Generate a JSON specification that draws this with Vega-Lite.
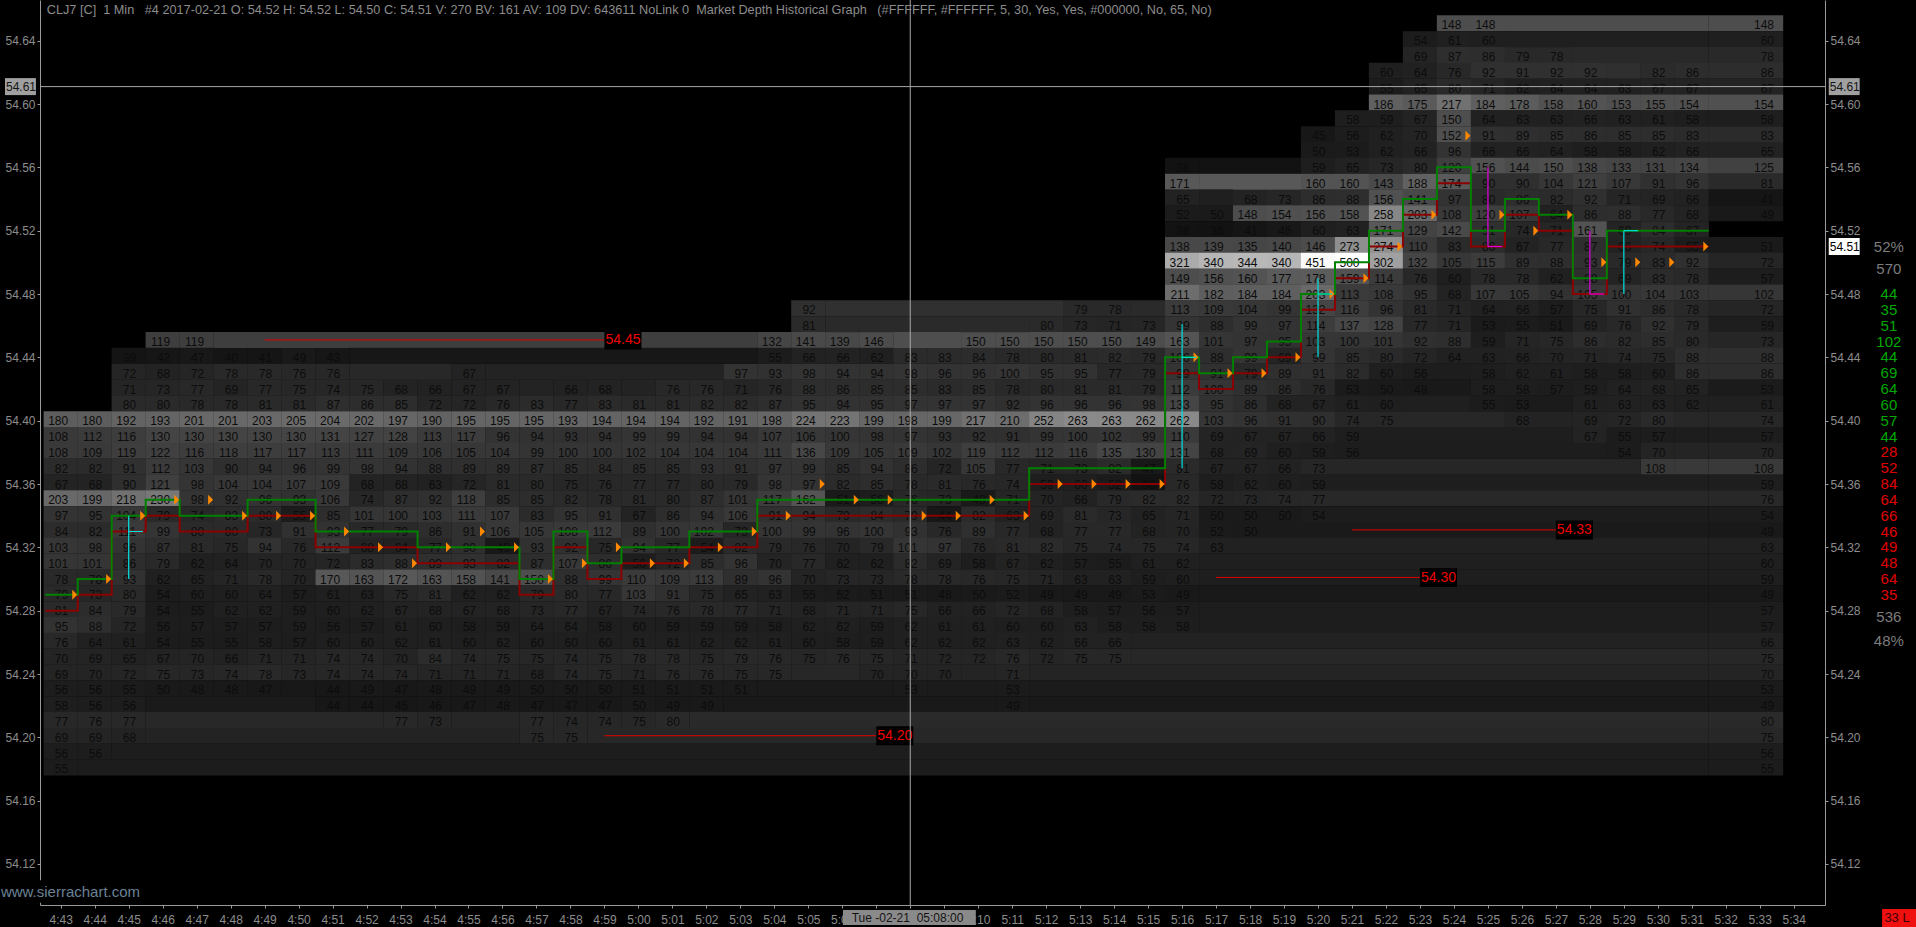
{"$schema":"https://vega.github.io/schema/vega-lite/v6.json","width":1785,"height":905,"autosize":"none","padding":{"left":40,"top":0,"right":91,"bottom":22},"background":"#000000","config":{"view":{"stroke":null},"axis":{"grid":false,"domainColor":"#9a9a9a","tickColor":"#9a9a9a","labelColor":"#8c8c8c","labelFont":"Liberation Sans","labelFontSize":12,"tickSize":3,"labelPadding":2,"title":null},"text":{"font":"Liberation Sans"}},"data":{"values":[{}]},"resolve":{"axis":{"y":"independent","x":"independent"}},
"datasets":{"cells":[
{"m":324,"p":54.65,"v":148},{"m":325,"p":54.65,"v":148},
{"m":323,"p":54.64,"v":54},{"m":324,"p":54.64,"v":61},{"m":325,"p":54.64,"v":60},
{"m":323,"p":54.63,"v":69},{"m":324,"p":54.63,"v":87},{"m":325,"p":54.63,"v":86},{"m":326,"p":54.63,"v":79},{"m":327,"p":54.63,"v":78},
{"m":322,"p":54.62,"v":60},{"m":323,"p":54.62,"v":64},{"m":324,"p":54.62,"v":76},{"m":325,"p":54.62,"v":92},{"m":326,"p":54.62,"v":91},{"m":327,"p":54.62,"v":92},{"m":328,"p":54.62,"v":92},{"m":330,"p":54.62,"v":82},{"m":331,"p":54.62,"v":86},
{"m":322,"p":54.61,"v":55},{"m":323,"p":54.61,"v":65},{"m":324,"p":54.61,"v":80},{"m":325,"p":54.61,"v":71},{"m":326,"p":54.61,"v":62},{"m":327,"p":54.61,"v":64},{"m":328,"p":54.61,"v":64},{"m":329,"p":54.61,"v":63},{"m":330,"p":54.61,"v":67},{"m":331,"p":54.61,"v":67},
{"m":322,"p":54.6,"v":186},{"m":323,"p":54.6,"v":175},{"m":324,"p":54.6,"v":217},{"m":325,"p":54.6,"v":184},{"m":326,"p":54.6,"v":178},{"m":327,"p":54.6,"v":158},{"m":328,"p":54.6,"v":160},{"m":329,"p":54.6,"v":153},{"m":330,"p":54.6,"v":155},{"m":331,"p":54.6,"v":154},
{"m":321,"p":54.59,"v":58},{"m":322,"p":54.59,"v":59},{"m":323,"p":54.59,"v":67},{"m":324,"p":54.59,"v":150},{"m":325,"p":54.59,"v":64},{"m":326,"p":54.59,"v":63},{"m":327,"p":54.59,"v":63},{"m":328,"p":54.59,"v":66},{"m":329,"p":54.59,"v":63},{"m":330,"p":54.59,"v":61},{"m":331,"p":54.59,"v":58},
{"m":320,"p":54.58,"v":45},{"m":321,"p":54.58,"v":56},{"m":322,"p":54.58,"v":62},{"m":323,"p":54.58,"v":70},{"m":324,"p":54.58,"v":152},{"m":325,"p":54.58,"v":91},{"m":326,"p":54.58,"v":89},{"m":327,"p":54.58,"v":85},{"m":328,"p":54.58,"v":86},{"m":329,"p":54.58,"v":85},{"m":330,"p":54.58,"v":85},{"m":331,"p":54.58,"v":83},
{"m":320,"p":54.57,"v":50},{"m":321,"p":54.57,"v":53},{"m":322,"p":54.57,"v":62},{"m":323,"p":54.57,"v":66},{"m":324,"p":54.57,"v":96},{"m":325,"p":54.57,"v":66},{"m":326,"p":54.57,"v":66},{"m":327,"p":54.57,"v":64},{"m":328,"p":54.57,"v":58},{"m":329,"p":54.57,"v":58},{"m":330,"p":54.57,"v":62},{"m":331,"p":54.57,"v":66},
{"m":316,"p":54.56,"v":36},{"m":320,"p":54.56,"v":59},{"m":321,"p":54.56,"v":65},{"m":322,"p":54.56,"v":73},{"m":323,"p":54.56,"v":80},{"m":324,"p":54.56,"v":120},{"m":325,"p":54.56,"v":156},{"m":326,"p":54.56,"v":144},{"m":327,"p":54.56,"v":150},{"m":328,"p":54.56,"v":138},{"m":329,"p":54.56,"v":133},{"m":330,"p":54.56,"v":131},{"m":331,"p":54.56,"v":134},
{"m":316,"p":54.55,"v":171},{"m":320,"p":54.55,"v":160},{"m":321,"p":54.55,"v":160},{"m":322,"p":54.55,"v":143},{"m":323,"p":54.55,"v":188},{"m":324,"p":54.55,"v":174},{"m":325,"p":54.55,"v":90},{"m":326,"p":54.55,"v":90},{"m":327,"p":54.55,"v":104},{"m":328,"p":54.55,"v":121},{"m":329,"p":54.55,"v":107},{"m":330,"p":54.55,"v":91},{"m":331,"p":54.55,"v":96},
{"m":316,"p":54.54,"v":65},{"m":318,"p":54.54,"v":68},{"m":319,"p":54.54,"v":73},{"m":320,"p":54.54,"v":86},{"m":321,"p":54.54,"v":88},{"m":322,"p":54.54,"v":156},{"m":323,"p":54.54,"v":141},{"m":324,"p":54.54,"v":97},{"m":325,"p":54.54,"v":80},{"m":326,"p":54.54,"v":86},{"m":327,"p":54.54,"v":82},{"m":328,"p":54.54,"v":92},{"m":329,"p":54.54,"v":71},{"m":330,"p":54.54,"v":69},{"m":331,"p":54.54,"v":66},
{"m":316,"p":54.53,"v":52},{"m":317,"p":54.53,"v":50},{"m":318,"p":54.53,"v":148},{"m":319,"p":54.53,"v":154},{"m":320,"p":54.53,"v":156},{"m":321,"p":54.53,"v":158},{"m":322,"p":54.53,"v":258},{"m":323,"p":54.53,"v":203},{"m":324,"p":54.53,"v":108},{"m":325,"p":54.53,"v":120},{"m":326,"p":54.53,"v":107},{"m":327,"p":54.53,"v":64},{"m":328,"p":54.53,"v":86},{"m":329,"p":54.53,"v":88},{"m":330,"p":54.53,"v":77},{"m":331,"p":54.53,"v":68},
{"m":316,"p":54.52,"v":38},{"m":317,"p":54.52,"v":36},{"m":318,"p":54.52,"v":41},{"m":319,"p":54.52,"v":46},{"m":320,"p":54.52,"v":60},{"m":321,"p":54.52,"v":63},{"m":322,"p":54.52,"v":171},{"m":323,"p":54.52,"v":129},{"m":324,"p":54.52,"v":142},{"m":325,"p":54.52,"v":91},{"m":326,"p":54.52,"v":74},{"m":327,"p":54.52,"v":71},{"m":328,"p":54.52,"v":161},{"m":329,"p":54.52,"v":69},{"m":330,"p":54.52,"v":84},{"m":331,"p":54.52,"v":67},
{"m":316,"p":54.51,"v":138},{"m":317,"p":54.51,"v":139},{"m":318,"p":54.51,"v":135},{"m":319,"p":54.51,"v":140},{"m":320,"p":54.51,"v":146},{"m":321,"p":54.51,"v":273},{"m":322,"p":54.51,"v":274},{"m":323,"p":54.51,"v":110},{"m":324,"p":54.51,"v":83},{"m":325,"p":54.51,"v":86},{"m":326,"p":54.51,"v":67},{"m":327,"p":54.51,"v":77},{"m":328,"p":54.51,"v":87},{"m":329,"p":54.51,"v":66},{"m":330,"p":54.51,"v":74},{"m":331,"p":54.51,"v":55},
{"m":316,"p":54.5,"v":321},{"m":317,"p":54.5,"v":340},{"m":318,"p":54.5,"v":344},{"m":319,"p":54.5,"v":340},{"m":320,"p":54.5,"v":451},{"m":321,"p":54.5,"v":500},{"m":322,"p":54.5,"v":302},{"m":323,"p":54.5,"v":132},{"m":324,"p":54.5,"v":105},{"m":325,"p":54.5,"v":115},{"m":326,"p":54.5,"v":89},{"m":327,"p":54.5,"v":88},{"m":328,"p":54.5,"v":93},{"m":329,"p":54.5,"v":79},{"m":330,"p":54.5,"v":83},{"m":331,"p":54.5,"v":92},
{"m":316,"p":54.49,"v":149},{"m":317,"p":54.49,"v":156},{"m":318,"p":54.49,"v":160},{"m":319,"p":54.49,"v":177},{"m":320,"p":54.49,"v":178},{"m":321,"p":54.49,"v":159},{"m":322,"p":54.49,"v":114},{"m":323,"p":54.49,"v":76},{"m":324,"p":54.49,"v":60},{"m":325,"p":54.49,"v":78},{"m":326,"p":54.49,"v":78},{"m":327,"p":54.49,"v":62},{"m":328,"p":54.49,"v":88},{"m":329,"p":54.49,"v":69},{"m":330,"p":54.49,"v":83},{"m":331,"p":54.49,"v":78},
{"m":316,"p":54.48,"v":211},{"m":317,"p":54.48,"v":182},{"m":318,"p":54.48,"v":184},{"m":319,"p":54.48,"v":184},{"m":320,"p":54.48,"v":203},{"m":321,"p":54.48,"v":113},{"m":322,"p":54.48,"v":108},{"m":323,"p":54.48,"v":95},{"m":324,"p":54.48,"v":68},{"m":325,"p":54.48,"v":107},{"m":326,"p":54.48,"v":105},{"m":327,"p":54.48,"v":94},{"m":328,"p":54.48,"v":105},{"m":329,"p":54.48,"v":100},{"m":330,"p":54.48,"v":104},{"m":331,"p":54.48,"v":103},
{"m":305,"p":54.47,"v":92},{"m":313,"p":54.47,"v":79},{"m":314,"p":54.47,"v":78},{"m":316,"p":54.47,"v":113},{"m":317,"p":54.47,"v":109},{"m":318,"p":54.47,"v":104},{"m":319,"p":54.47,"v":99},{"m":320,"p":54.47,"v":132},{"m":321,"p":54.47,"v":116},{"m":322,"p":54.47,"v":96},{"m":323,"p":54.47,"v":81},{"m":324,"p":54.47,"v":71},{"m":325,"p":54.47,"v":64},{"m":326,"p":54.47,"v":66},{"m":327,"p":54.47,"v":57},{"m":328,"p":54.47,"v":75},{"m":329,"p":54.47,"v":91},{"m":330,"p":54.47,"v":86},{"m":331,"p":54.47,"v":78},
{"m":305,"p":54.46,"v":81},{"m":312,"p":54.46,"v":80},{"m":313,"p":54.46,"v":73},{"m":314,"p":54.46,"v":71},{"m":315,"p":54.46,"v":73},{"m":316,"p":54.46,"v":99},{"m":317,"p":54.46,"v":88},{"m":318,"p":54.46,"v":99},{"m":319,"p":54.46,"v":97},{"m":320,"p":54.46,"v":114},{"m":321,"p":54.46,"v":137},{"m":322,"p":54.46,"v":128},{"m":323,"p":54.46,"v":77},{"m":324,"p":54.46,"v":71},{"m":325,"p":54.46,"v":53},{"m":326,"p":54.46,"v":55},{"m":327,"p":54.46,"v":51},{"m":328,"p":54.46,"v":69},{"m":329,"p":54.46,"v":76},{"m":330,"p":54.46,"v":92},{"m":331,"p":54.46,"v":79},
{"m":286,"p":54.45,"v":119},{"m":287,"p":54.45,"v":119},{"m":304,"p":54.45,"v":132},{"m":305,"p":54.45,"v":141},{"m":306,"p":54.45,"v":139},{"m":307,"p":54.45,"v":146},{"m":310,"p":54.45,"v":150},{"m":311,"p":54.45,"v":150},{"m":312,"p":54.45,"v":150},{"m":313,"p":54.45,"v":150},{"m":314,"p":54.45,"v":150},{"m":315,"p":54.45,"v":149},{"m":316,"p":54.45,"v":163},{"m":317,"p":54.45,"v":101},{"m":318,"p":54.45,"v":97},{"m":319,"p":54.45,"v":95},{"m":320,"p":54.45,"v":103},{"m":321,"p":54.45,"v":100},{"m":322,"p":54.45,"v":101},{"m":323,"p":54.45,"v":92},{"m":324,"p":54.45,"v":88},{"m":325,"p":54.45,"v":59},{"m":326,"p":54.45,"v":71},{"m":327,"p":54.45,"v":75},{"m":328,"p":54.45,"v":86},{"m":329,"p":54.45,"v":82},{"m":330,"p":54.45,"v":85},{"m":331,"p":54.45,"v":80},
{"m":285,"p":54.44,"v":39},{"m":286,"p":54.44,"v":42},{"m":287,"p":54.44,"v":47},{"m":288,"p":54.44,"v":40},{"m":289,"p":54.44,"v":41},{"m":290,"p":54.44,"v":49},{"m":291,"p":54.44,"v":43},{"m":304,"p":54.44,"v":55},{"m":305,"p":54.44,"v":66},{"m":306,"p":54.44,"v":66},{"m":307,"p":54.44,"v":62},{"m":308,"p":54.44,"v":83},{"m":309,"p":54.44,"v":83},{"m":310,"p":54.44,"v":84},{"m":311,"p":54.44,"v":78},{"m":312,"p":54.44,"v":80},{"m":313,"p":54.44,"v":81},{"m":314,"p":54.44,"v":82},{"m":315,"p":54.44,"v":79},{"m":316,"p":54.44,"v":106},{"m":317,"p":54.44,"v":88},{"m":318,"p":54.44,"v":99},{"m":319,"p":54.44,"v":69},{"m":320,"p":54.44,"v":99},{"m":321,"p":54.44,"v":85},{"m":322,"p":54.44,"v":80},{"m":323,"p":54.44,"v":72},{"m":324,"p":54.44,"v":64},{"m":325,"p":54.44,"v":63},{"m":326,"p":54.44,"v":66},{"m":327,"p":54.44,"v":70},{"m":328,"p":54.44,"v":71},{"m":329,"p":54.44,"v":74},{"m":330,"p":54.44,"v":75},{"m":331,"p":54.44,"v":88},
{"m":285,"p":54.43,"v":72},{"m":286,"p":54.43,"v":68},{"m":287,"p":54.43,"v":72},{"m":288,"p":54.43,"v":78},{"m":289,"p":54.43,"v":78},{"m":290,"p":54.43,"v":76},{"m":291,"p":54.43,"v":76},{"m":295,"p":54.43,"v":67},{"m":303,"p":54.43,"v":97},{"m":304,"p":54.43,"v":93},{"m":305,"p":54.43,"v":98},{"m":306,"p":54.43,"v":94},{"m":307,"p":54.43,"v":94},{"m":308,"p":54.43,"v":98},{"m":309,"p":54.43,"v":96},{"m":310,"p":54.43,"v":96},{"m":311,"p":54.43,"v":100},{"m":312,"p":54.43,"v":95},{"m":313,"p":54.43,"v":95},{"m":314,"p":54.43,"v":77},{"m":315,"p":54.43,"v":79},{"m":316,"p":54.43,"v":99},{"m":317,"p":54.43,"v":91},{"m":318,"p":54.43,"v":79},{"m":319,"p":54.43,"v":89},{"m":320,"p":54.43,"v":91},{"m":321,"p":54.43,"v":82},{"m":322,"p":54.43,"v":60},{"m":323,"p":54.43,"v":56},{"m":325,"p":54.43,"v":58},{"m":326,"p":54.43,"v":62},{"m":327,"p":54.43,"v":61},{"m":328,"p":54.43,"v":58},{"m":329,"p":54.43,"v":58},{"m":330,"p":54.43,"v":60},{"m":331,"p":54.43,"v":86},
{"m":285,"p":54.42,"v":71},{"m":286,"p":54.42,"v":73},{"m":287,"p":54.42,"v":77},{"m":288,"p":54.42,"v":69},{"m":289,"p":54.42,"v":77},{"m":290,"p":54.42,"v":75},{"m":291,"p":54.42,"v":74},{"m":292,"p":54.42,"v":75},{"m":293,"p":54.42,"v":68},{"m":294,"p":54.42,"v":66},{"m":295,"p":54.42,"v":67},{"m":296,"p":54.42,"v":67},{"m":298,"p":54.42,"v":66},{"m":299,"p":54.42,"v":68},{"m":301,"p":54.42,"v":76},{"m":302,"p":54.42,"v":76},{"m":303,"p":54.42,"v":71},{"m":304,"p":54.42,"v":76},{"m":305,"p":54.42,"v":88},{"m":306,"p":54.42,"v":86},{"m":307,"p":54.42,"v":85},{"m":308,"p":54.42,"v":85},{"m":309,"p":54.42,"v":83},{"m":310,"p":54.42,"v":85},{"m":311,"p":54.42,"v":78},{"m":312,"p":54.42,"v":80},{"m":313,"p":54.42,"v":81},{"m":314,"p":54.42,"v":81},{"m":315,"p":54.42,"v":79},{"m":316,"p":54.42,"v":112},{"m":317,"p":54.42,"v":100},{"m":318,"p":54.42,"v":89},{"m":319,"p":54.42,"v":86},{"m":320,"p":54.42,"v":76},{"m":321,"p":54.42,"v":53},{"m":322,"p":54.42,"v":50},{"m":323,"p":54.42,"v":48},{"m":325,"p":54.42,"v":58},{"m":326,"p":54.42,"v":58},{"m":327,"p":54.42,"v":57},{"m":328,"p":54.42,"v":59},{"m":329,"p":54.42,"v":64},{"m":330,"p":54.42,"v":68},{"m":331,"p":54.42,"v":65},
{"m":285,"p":54.41,"v":80},{"m":286,"p":54.41,"v":80},{"m":287,"p":54.41,"v":78},{"m":288,"p":54.41,"v":78},{"m":289,"p":54.41,"v":81},{"m":290,"p":54.41,"v":81},{"m":291,"p":54.41,"v":87},{"m":292,"p":54.41,"v":86},{"m":293,"p":54.41,"v":85},{"m":294,"p":54.41,"v":72},{"m":295,"p":54.41,"v":72},{"m":296,"p":54.41,"v":76},{"m":297,"p":54.41,"v":83},{"m":298,"p":54.41,"v":77},{"m":299,"p":54.41,"v":83},{"m":300,"p":54.41,"v":81},{"m":301,"p":54.41,"v":81},{"m":302,"p":54.41,"v":82},{"m":303,"p":54.41,"v":82},{"m":304,"p":54.41,"v":87},{"m":305,"p":54.41,"v":95},{"m":306,"p":54.41,"v":94},{"m":307,"p":54.41,"v":95},{"m":308,"p":54.41,"v":97},{"m":309,"p":54.41,"v":97},{"m":310,"p":54.41,"v":97},{"m":311,"p":54.41,"v":92},{"m":312,"p":54.41,"v":96},{"m":313,"p":54.41,"v":96},{"m":314,"p":54.41,"v":96},{"m":315,"p":54.41,"v":98},{"m":316,"p":54.41,"v":133},{"m":317,"p":54.41,"v":95},{"m":318,"p":54.41,"v":86},{"m":319,"p":54.41,"v":68},{"m":320,"p":54.41,"v":67},{"m":321,"p":54.41,"v":61},{"m":322,"p":54.41,"v":60},{"m":325,"p":54.41,"v":55},{"m":326,"p":54.41,"v":53},{"m":328,"p":54.41,"v":61},{"m":329,"p":54.41,"v":63},{"m":330,"p":54.41,"v":63},{"m":331,"p":54.41,"v":62},
{"m":283,"p":54.4,"v":180},{"m":284,"p":54.4,"v":180},{"m":285,"p":54.4,"v":192},{"m":286,"p":54.4,"v":193},{"m":287,"p":54.4,"v":201},{"m":288,"p":54.4,"v":201},{"m":289,"p":54.4,"v":203},{"m":290,"p":54.4,"v":205},{"m":291,"p":54.4,"v":204},{"m":292,"p":54.4,"v":202},{"m":293,"p":54.4,"v":197},{"m":294,"p":54.4,"v":190},{"m":295,"p":54.4,"v":195},{"m":296,"p":54.4,"v":195},{"m":297,"p":54.4,"v":195},{"m":298,"p":54.4,"v":193},{"m":299,"p":54.4,"v":194},{"m":300,"p":54.4,"v":194},{"m":301,"p":54.4,"v":194},{"m":302,"p":54.4,"v":192},{"m":303,"p":54.4,"v":191},{"m":304,"p":54.4,"v":198},{"m":305,"p":54.4,"v":224},{"m":306,"p":54.4,"v":223},{"m":307,"p":54.4,"v":199},{"m":308,"p":54.4,"v":198},{"m":309,"p":54.4,"v":199},{"m":310,"p":54.4,"v":217},{"m":311,"p":54.4,"v":210},{"m":312,"p":54.4,"v":252},{"m":313,"p":54.4,"v":263},{"m":314,"p":54.4,"v":263},{"m":315,"p":54.4,"v":262},{"m":316,"p":54.4,"v":262},{"m":317,"p":54.4,"v":103},{"m":318,"p":54.4,"v":96},{"m":319,"p":54.4,"v":91},{"m":320,"p":54.4,"v":90},{"m":321,"p":54.4,"v":74},{"m":322,"p":54.4,"v":75},{"m":326,"p":54.4,"v":68},{"m":328,"p":54.4,"v":69},{"m":329,"p":54.4,"v":72},{"m":330,"p":54.4,"v":80},
{"m":283,"p":54.39,"v":108},{"m":284,"p":54.39,"v":112},{"m":285,"p":54.39,"v":116},{"m":286,"p":54.39,"v":130},{"m":287,"p":54.39,"v":130},{"m":288,"p":54.39,"v":130},{"m":289,"p":54.39,"v":130},{"m":290,"p":54.39,"v":130},{"m":291,"p":54.39,"v":131},{"m":292,"p":54.39,"v":127},{"m":293,"p":54.39,"v":128},{"m":294,"p":54.39,"v":113},{"m":295,"p":54.39,"v":117},{"m":296,"p":54.39,"v":96},{"m":297,"p":54.39,"v":94},{"m":298,"p":54.39,"v":93},{"m":299,"p":54.39,"v":94},{"m":300,"p":54.39,"v":99},{"m":301,"p":54.39,"v":99},{"m":302,"p":54.39,"v":94},{"m":303,"p":54.39,"v":94},{"m":304,"p":54.39,"v":107},{"m":305,"p":54.39,"v":106},{"m":306,"p":54.39,"v":100},{"m":307,"p":54.39,"v":98},{"m":308,"p":54.39,"v":97},{"m":309,"p":54.39,"v":93},{"m":310,"p":54.39,"v":92},{"m":311,"p":54.39,"v":91},{"m":312,"p":54.39,"v":99},{"m":313,"p":54.39,"v":100},{"m":314,"p":54.39,"v":102},{"m":315,"p":54.39,"v":99},{"m":316,"p":54.39,"v":110},{"m":317,"p":54.39,"v":69},{"m":318,"p":54.39,"v":67},{"m":319,"p":54.39,"v":67},{"m":320,"p":54.39,"v":66},{"m":321,"p":54.39,"v":59},{"m":328,"p":54.39,"v":67},{"m":329,"p":54.39,"v":55},{"m":330,"p":54.39,"v":57},
{"m":283,"p":54.38,"v":108},{"m":284,"p":54.38,"v":109},{"m":285,"p":54.38,"v":119},{"m":286,"p":54.38,"v":122},{"m":287,"p":54.38,"v":116},{"m":288,"p":54.38,"v":118},{"m":289,"p":54.38,"v":117},{"m":290,"p":54.38,"v":117},{"m":291,"p":54.38,"v":113},{"m":292,"p":54.38,"v":111},{"m":293,"p":54.38,"v":109},{"m":294,"p":54.38,"v":106},{"m":295,"p":54.38,"v":105},{"m":296,"p":54.38,"v":104},{"m":297,"p":54.38,"v":99},{"m":298,"p":54.38,"v":100},{"m":299,"p":54.38,"v":100},{"m":300,"p":54.38,"v":102},{"m":301,"p":54.38,"v":104},{"m":302,"p":54.38,"v":104},{"m":303,"p":54.38,"v":104},{"m":304,"p":54.38,"v":111},{"m":305,"p":54.38,"v":136},{"m":306,"p":54.38,"v":109},{"m":307,"p":54.38,"v":105},{"m":308,"p":54.38,"v":109},{"m":309,"p":54.38,"v":102},{"m":310,"p":54.38,"v":119},{"m":311,"p":54.38,"v":112},{"m":312,"p":54.38,"v":112},{"m":313,"p":54.38,"v":116},{"m":314,"p":54.38,"v":135},{"m":315,"p":54.38,"v":130},{"m":316,"p":54.38,"v":131},{"m":317,"p":54.38,"v":68},{"m":318,"p":54.38,"v":69},{"m":319,"p":54.38,"v":60},{"m":320,"p":54.38,"v":59},{"m":321,"p":54.38,"v":56},{"m":329,"p":54.38,"v":54},{"m":330,"p":54.38,"v":70},
{"m":283,"p":54.37,"v":82},{"m":284,"p":54.37,"v":82},{"m":285,"p":54.37,"v":91},{"m":286,"p":54.37,"v":112},{"m":287,"p":54.37,"v":103},{"m":288,"p":54.37,"v":90},{"m":289,"p":54.37,"v":94},{"m":290,"p":54.37,"v":96},{"m":291,"p":54.37,"v":99},{"m":292,"p":54.37,"v":98},{"m":293,"p":54.37,"v":94},{"m":294,"p":54.37,"v":88},{"m":295,"p":54.37,"v":89},{"m":296,"p":54.37,"v":89},{"m":297,"p":54.37,"v":87},{"m":298,"p":54.37,"v":85},{"m":299,"p":54.37,"v":84},{"m":300,"p":54.37,"v":85},{"m":301,"p":54.37,"v":85},{"m":302,"p":54.37,"v":93},{"m":303,"p":54.37,"v":91},{"m":304,"p":54.37,"v":97},{"m":305,"p":54.37,"v":99},{"m":306,"p":54.37,"v":85},{"m":307,"p":54.37,"v":94},{"m":308,"p":54.37,"v":86},{"m":309,"p":54.37,"v":72},{"m":310,"p":54.37,"v":105},{"m":311,"p":54.37,"v":77},{"m":312,"p":54.37,"v":71},{"m":313,"p":54.37,"v":73},{"m":314,"p":54.37,"v":82},{"m":315,"p":54.37,"v":47},{"m":316,"p":54.37,"v":81},{"m":317,"p":54.37,"v":67},{"m":318,"p":54.37,"v":67},{"m":319,"p":54.37,"v":66},{"m":320,"p":54.37,"v":73},{"m":330,"p":54.37,"v":108},
{"m":283,"p":54.36,"v":67},{"m":284,"p":54.36,"v":68},{"m":285,"p":54.36,"v":90},{"m":286,"p":54.36,"v":121},{"m":287,"p":54.36,"v":98},{"m":288,"p":54.36,"v":104},{"m":289,"p":54.36,"v":104},{"m":290,"p":54.36,"v":107},{"m":291,"p":54.36,"v":109},{"m":292,"p":54.36,"v":68},{"m":293,"p":54.36,"v":68},{"m":294,"p":54.36,"v":63},{"m":295,"p":54.36,"v":72},{"m":296,"p":54.36,"v":81},{"m":297,"p":54.36,"v":80},{"m":298,"p":54.36,"v":75},{"m":299,"p":54.36,"v":76},{"m":300,"p":54.36,"v":77},{"m":301,"p":54.36,"v":77},{"m":302,"p":54.36,"v":80},{"m":303,"p":54.36,"v":79},{"m":304,"p":54.36,"v":98},{"m":305,"p":54.36,"v":97},{"m":306,"p":54.36,"v":82},{"m":307,"p":54.36,"v":85},{"m":308,"p":54.36,"v":78},{"m":309,"p":54.36,"v":81},{"m":310,"p":54.36,"v":76},{"m":311,"p":54.36,"v":74},{"m":312,"p":54.36,"v":59},{"m":313,"p":54.36,"v":60},{"m":314,"p":54.36,"v":52},{"m":315,"p":54.36,"v":36},{"m":316,"p":54.36,"v":76},{"m":317,"p":54.36,"v":58},{"m":318,"p":54.36,"v":62},{"m":319,"p":54.36,"v":60},{"m":320,"p":54.36,"v":59},
{"m":283,"p":54.35,"v":203},{"m":284,"p":54.35,"v":199},{"m":285,"p":54.35,"v":218},{"m":286,"p":54.35,"v":230},{"m":287,"p":54.35,"v":98},{"m":288,"p":54.35,"v":92},{"m":289,"p":54.35,"v":96},{"m":290,"p":54.35,"v":93},{"m":291,"p":54.35,"v":106},{"m":292,"p":54.35,"v":74},{"m":293,"p":54.35,"v":87},{"m":294,"p":54.35,"v":92},{"m":295,"p":54.35,"v":118},{"m":296,"p":54.35,"v":85},{"m":297,"p":54.35,"v":85},{"m":298,"p":54.35,"v":82},{"m":299,"p":54.35,"v":78},{"m":300,"p":54.35,"v":81},{"m":301,"p":54.35,"v":80},{"m":302,"p":54.35,"v":87},{"m":303,"p":54.35,"v":101},{"m":304,"p":54.35,"v":117},{"m":305,"p":54.35,"v":162},{"m":306,"p":54.35,"v":51},{"m":307,"p":54.35,"v":56},{"m":308,"p":54.35,"v":76},{"m":309,"p":54.35,"v":73},{"m":310,"p":54.35,"v":48},{"m":311,"p":54.35,"v":71},{"m":312,"p":54.35,"v":70},{"m":313,"p":54.35,"v":66},{"m":314,"p":54.35,"v":79},{"m":315,"p":54.35,"v":82},{"m":316,"p":54.35,"v":82},{"m":317,"p":54.35,"v":72},{"m":318,"p":54.35,"v":73},{"m":319,"p":54.35,"v":74},{"m":320,"p":54.35,"v":77},
{"m":283,"p":54.34,"v":97},{"m":284,"p":54.34,"v":95},{"m":285,"p":54.34,"v":104},{"m":286,"p":54.34,"v":79},{"m":287,"p":54.34,"v":74},{"m":288,"p":54.34,"v":83},{"m":289,"p":54.34,"v":80},{"m":290,"p":54.34,"v":55},{"m":291,"p":54.34,"v":85},{"m":292,"p":54.34,"v":101},{"m":293,"p":54.34,"v":100},{"m":294,"p":54.34,"v":103},{"m":295,"p":54.34,"v":111},{"m":296,"p":54.34,"v":107},{"m":297,"p":54.34,"v":83},{"m":298,"p":54.34,"v":95},{"m":299,"p":54.34,"v":91},{"m":300,"p":54.34,"v":67},{"m":301,"p":54.34,"v":86},{"m":302,"p":54.34,"v":94},{"m":303,"p":54.34,"v":106},{"m":304,"p":54.34,"v":91},{"m":305,"p":54.34,"v":94},{"m":306,"p":54.34,"v":79},{"m":307,"p":54.34,"v":84},{"m":308,"p":54.34,"v":79},{"m":309,"p":54.34,"v":44},{"m":310,"p":54.34,"v":82},{"m":311,"p":54.34,"v":63},{"m":312,"p":54.34,"v":69},{"m":313,"p":54.34,"v":81},{"m":314,"p":54.34,"v":73},{"m":315,"p":54.34,"v":65},{"m":316,"p":54.34,"v":71},{"m":317,"p":54.34,"v":50},{"m":318,"p":54.34,"v":50},{"m":319,"p":54.34,"v":50},{"m":320,"p":54.34,"v":54},
{"m":283,"p":54.33,"v":84},{"m":284,"p":54.33,"v":82},{"m":285,"p":54.33,"v":111},{"m":286,"p":54.33,"v":99},{"m":287,"p":54.33,"v":80},{"m":288,"p":54.33,"v":80},{"m":289,"p":54.33,"v":73},{"m":290,"p":54.33,"v":91},{"m":291,"p":54.33,"v":93},{"m":292,"p":54.33,"v":77},{"m":293,"p":54.33,"v":79},{"m":294,"p":54.33,"v":86},{"m":295,"p":54.33,"v":91},{"m":296,"p":54.33,"v":106},{"m":297,"p":54.33,"v":105},{"m":298,"p":54.33,"v":108},{"m":299,"p":54.33,"v":112},{"m":300,"p":54.33,"v":89},{"m":301,"p":54.33,"v":100},{"m":302,"p":54.33,"v":102},{"m":303,"p":54.33,"v":73},{"m":304,"p":54.33,"v":100},{"m":305,"p":54.33,"v":99},{"m":306,"p":54.33,"v":96},{"m":307,"p":54.33,"v":100},{"m":308,"p":54.33,"v":93},{"m":309,"p":54.33,"v":76},{"m":310,"p":54.33,"v":89},{"m":311,"p":54.33,"v":77},{"m":312,"p":54.33,"v":68},{"m":313,"p":54.33,"v":77},{"m":314,"p":54.33,"v":77},{"m":315,"p":54.33,"v":68},{"m":316,"p":54.33,"v":70},{"m":317,"p":54.33,"v":52},{"m":318,"p":54.33,"v":50},
{"m":283,"p":54.32,"v":103},{"m":284,"p":54.32,"v":98},{"m":285,"p":54.32,"v":96},{"m":286,"p":54.32,"v":87},{"m":287,"p":54.32,"v":81},{"m":288,"p":54.32,"v":75},{"m":289,"p":54.32,"v":94},{"m":290,"p":54.32,"v":76},{"m":291,"p":54.32,"v":112},{"m":292,"p":54.32,"v":68},{"m":293,"p":54.32,"v":64},{"m":294,"p":54.32,"v":77},{"m":295,"p":54.32,"v":90},{"m":296,"p":54.32,"v":49},{"m":297,"p":54.32,"v":93},{"m":298,"p":54.32,"v":92},{"m":299,"p":54.32,"v":75},{"m":300,"p":54.32,"v":94},{"m":301,"p":54.32,"v":77},{"m":302,"p":54.32,"v":54},{"m":303,"p":54.32,"v":82},{"m":304,"p":54.32,"v":79},{"m":305,"p":54.32,"v":76},{"m":306,"p":54.32,"v":70},{"m":307,"p":54.32,"v":79},{"m":308,"p":54.32,"v":101},{"m":309,"p":54.32,"v":97},{"m":310,"p":54.32,"v":76},{"m":311,"p":54.32,"v":81},{"m":312,"p":54.32,"v":82},{"m":313,"p":54.32,"v":75},{"m":314,"p":54.32,"v":74},{"m":315,"p":54.32,"v":75},{"m":316,"p":54.32,"v":74},{"m":317,"p":54.32,"v":63},
{"m":283,"p":54.31,"v":101},{"m":284,"p":54.31,"v":101},{"m":285,"p":54.31,"v":86},{"m":286,"p":54.31,"v":79},{"m":287,"p":54.31,"v":62},{"m":288,"p":54.31,"v":64},{"m":289,"p":54.31,"v":70},{"m":290,"p":54.31,"v":70},{"m":291,"p":54.31,"v":72},{"m":292,"p":54.31,"v":83},{"m":293,"p":54.31,"v":88},{"m":294,"p":54.31,"v":89},{"m":295,"p":54.31,"v":93},{"m":296,"p":54.31,"v":82},{"m":297,"p":54.31,"v":87},{"m":298,"p":54.31,"v":107},{"m":299,"p":54.31,"v":86},{"m":300,"p":54.31,"v":56},{"m":301,"p":54.31,"v":72},{"m":302,"p":54.31,"v":85},{"m":303,"p":54.31,"v":96},{"m":304,"p":54.31,"v":70},{"m":305,"p":54.31,"v":77},{"m":306,"p":54.31,"v":62},{"m":307,"p":54.31,"v":62},{"m":308,"p":54.31,"v":82},{"m":309,"p":54.31,"v":69},{"m":310,"p":54.31,"v":58},{"m":311,"p":54.31,"v":67},{"m":312,"p":54.31,"v":62},{"m":313,"p":54.31,"v":57},{"m":314,"p":54.31,"v":55},{"m":315,"p":54.31,"v":61},{"m":316,"p":54.31,"v":62},
{"m":283,"p":54.3,"v":78},{"m":284,"p":54.3,"v":78},{"m":285,"p":54.3,"v":93},{"m":286,"p":54.3,"v":62},{"m":287,"p":54.3,"v":65},{"m":288,"p":54.3,"v":71},{"m":289,"p":54.3,"v":78},{"m":290,"p":54.3,"v":70},{"m":291,"p":54.3,"v":170},{"m":292,"p":54.3,"v":163},{"m":293,"p":54.3,"v":172},{"m":294,"p":54.3,"v":163},{"m":295,"p":54.3,"v":158},{"m":296,"p":54.3,"v":141},{"m":297,"p":54.3,"v":150},{"m":298,"p":54.3,"v":88},{"m":299,"p":54.3,"v":99},{"m":300,"p":54.3,"v":110},{"m":301,"p":54.3,"v":109},{"m":302,"p":54.3,"v":113},{"m":303,"p":54.3,"v":89},{"m":304,"p":54.3,"v":96},{"m":305,"p":54.3,"v":70},{"m":306,"p":54.3,"v":73},{"m":307,"p":54.3,"v":73},{"m":308,"p":54.3,"v":78},{"m":309,"p":54.3,"v":78},{"m":310,"p":54.3,"v":76},{"m":311,"p":54.3,"v":75},{"m":312,"p":54.3,"v":71},{"m":313,"p":54.3,"v":63},{"m":314,"p":54.3,"v":63},{"m":315,"p":54.3,"v":59},{"m":316,"p":54.3,"v":60},
{"m":283,"p":54.29,"v":79},{"m":284,"p":54.29,"v":73},{"m":285,"p":54.29,"v":80},{"m":286,"p":54.29,"v":54},{"m":287,"p":54.29,"v":60},{"m":288,"p":54.29,"v":60},{"m":289,"p":54.29,"v":64},{"m":290,"p":54.29,"v":57},{"m":291,"p":54.29,"v":61},{"m":292,"p":54.29,"v":63},{"m":293,"p":54.29,"v":75},{"m":294,"p":54.29,"v":81},{"m":295,"p":54.29,"v":62},{"m":296,"p":54.29,"v":62},{"m":297,"p":54.29,"v":79},{"m":298,"p":54.29,"v":80},{"m":299,"p":54.29,"v":77},{"m":300,"p":54.29,"v":103},{"m":301,"p":54.29,"v":91},{"m":302,"p":54.29,"v":75},{"m":303,"p":54.29,"v":65},{"m":304,"p":54.29,"v":63},{"m":305,"p":54.29,"v":55},{"m":306,"p":54.29,"v":52},{"m":307,"p":54.29,"v":51},{"m":308,"p":54.29,"v":51},{"m":309,"p":54.29,"v":48},{"m":310,"p":54.29,"v":50},{"m":311,"p":54.29,"v":52},{"m":312,"p":54.29,"v":49},{"m":313,"p":54.29,"v":49},{"m":314,"p":54.29,"v":49},{"m":315,"p":54.29,"v":53},{"m":316,"p":54.29,"v":49},
{"m":283,"p":54.28,"v":81},{"m":284,"p":54.28,"v":84},{"m":285,"p":54.28,"v":79},{"m":286,"p":54.28,"v":54},{"m":287,"p":54.28,"v":55},{"m":288,"p":54.28,"v":62},{"m":289,"p":54.28,"v":62},{"m":290,"p":54.28,"v":59},{"m":291,"p":54.28,"v":60},{"m":292,"p":54.28,"v":62},{"m":293,"p":54.28,"v":67},{"m":294,"p":54.28,"v":68},{"m":295,"p":54.28,"v":67},{"m":296,"p":54.28,"v":68},{"m":297,"p":54.28,"v":73},{"m":298,"p":54.28,"v":77},{"m":299,"p":54.28,"v":67},{"m":300,"p":54.28,"v":74},{"m":301,"p":54.28,"v":76},{"m":302,"p":54.28,"v":78},{"m":303,"p":54.28,"v":77},{"m":304,"p":54.28,"v":71},{"m":305,"p":54.28,"v":68},{"m":306,"p":54.28,"v":71},{"m":307,"p":54.28,"v":71},{"m":308,"p":54.28,"v":75},{"m":309,"p":54.28,"v":66},{"m":310,"p":54.28,"v":66},{"m":311,"p":54.28,"v":72},{"m":312,"p":54.28,"v":68},{"m":313,"p":54.28,"v":58},{"m":314,"p":54.28,"v":57},{"m":315,"p":54.28,"v":56},{"m":316,"p":54.28,"v":57},
{"m":283,"p":54.27,"v":95},{"m":284,"p":54.27,"v":88},{"m":285,"p":54.27,"v":72},{"m":286,"p":54.27,"v":56},{"m":287,"p":54.27,"v":57},{"m":288,"p":54.27,"v":57},{"m":289,"p":54.27,"v":57},{"m":290,"p":54.27,"v":59},{"m":291,"p":54.27,"v":56},{"m":292,"p":54.27,"v":57},{"m":293,"p":54.27,"v":61},{"m":294,"p":54.27,"v":60},{"m":295,"p":54.27,"v":58},{"m":296,"p":54.27,"v":59},{"m":297,"p":54.27,"v":64},{"m":298,"p":54.27,"v":64},{"m":299,"p":54.27,"v":58},{"m":300,"p":54.27,"v":60},{"m":301,"p":54.27,"v":59},{"m":302,"p":54.27,"v":59},{"m":303,"p":54.27,"v":59},{"m":304,"p":54.27,"v":58},{"m":305,"p":54.27,"v":62},{"m":306,"p":54.27,"v":62},{"m":307,"p":54.27,"v":59},{"m":308,"p":54.27,"v":62},{"m":309,"p":54.27,"v":61},{"m":310,"p":54.27,"v":61},{"m":311,"p":54.27,"v":60},{"m":312,"p":54.27,"v":60},{"m":313,"p":54.27,"v":63},{"m":314,"p":54.27,"v":58},{"m":315,"p":54.27,"v":58},{"m":316,"p":54.27,"v":58},
{"m":283,"p":54.26,"v":76},{"m":284,"p":54.26,"v":64},{"m":285,"p":54.26,"v":61},{"m":286,"p":54.26,"v":54},{"m":287,"p":54.26,"v":55},{"m":288,"p":54.26,"v":55},{"m":289,"p":54.26,"v":58},{"m":290,"p":54.26,"v":57},{"m":291,"p":54.26,"v":60},{"m":292,"p":54.26,"v":60},{"m":293,"p":54.26,"v":62},{"m":294,"p":54.26,"v":61},{"m":295,"p":54.26,"v":60},{"m":296,"p":54.26,"v":62},{"m":297,"p":54.26,"v":60},{"m":298,"p":54.26,"v":60},{"m":299,"p":54.26,"v":60},{"m":300,"p":54.26,"v":61},{"m":301,"p":54.26,"v":61},{"m":302,"p":54.26,"v":62},{"m":303,"p":54.26,"v":62},{"m":304,"p":54.26,"v":61},{"m":305,"p":54.26,"v":60},{"m":306,"p":54.26,"v":58},{"m":307,"p":54.26,"v":59},{"m":308,"p":54.26,"v":62},{"m":309,"p":54.26,"v":62},{"m":310,"p":54.26,"v":62},{"m":311,"p":54.26,"v":63},{"m":312,"p":54.26,"v":62},{"m":313,"p":54.26,"v":66},{"m":314,"p":54.26,"v":66},
{"m":283,"p":54.25,"v":70},{"m":284,"p":54.25,"v":69},{"m":285,"p":54.25,"v":65},{"m":286,"p":54.25,"v":67},{"m":287,"p":54.25,"v":70},{"m":288,"p":54.25,"v":66},{"m":289,"p":54.25,"v":71},{"m":290,"p":54.25,"v":71},{"m":291,"p":54.25,"v":74},{"m":292,"p":54.25,"v":74},{"m":293,"p":54.25,"v":70},{"m":294,"p":54.25,"v":84},{"m":295,"p":54.25,"v":74},{"m":296,"p":54.25,"v":75},{"m":297,"p":54.25,"v":75},{"m":298,"p":54.25,"v":74},{"m":299,"p":54.25,"v":75},{"m":300,"p":54.25,"v":78},{"m":301,"p":54.25,"v":78},{"m":302,"p":54.25,"v":75},{"m":303,"p":54.25,"v":79},{"m":304,"p":54.25,"v":76},{"m":305,"p":54.25,"v":75},{"m":306,"p":54.25,"v":76},{"m":307,"p":54.25,"v":75},{"m":308,"p":54.25,"v":71},{"m":309,"p":54.25,"v":72},{"m":310,"p":54.25,"v":72},{"m":311,"p":54.25,"v":76},{"m":312,"p":54.25,"v":72},{"m":313,"p":54.25,"v":75},{"m":314,"p":54.25,"v":75},
{"m":283,"p":54.24,"v":69},{"m":284,"p":54.24,"v":70},{"m":285,"p":54.24,"v":72},{"m":286,"p":54.24,"v":75},{"m":287,"p":54.24,"v":73},{"m":288,"p":54.24,"v":74},{"m":289,"p":54.24,"v":78},{"m":290,"p":54.24,"v":73},{"m":291,"p":54.24,"v":74},{"m":292,"p":54.24,"v":74},{"m":293,"p":54.24,"v":74},{"m":294,"p":54.24,"v":71},{"m":295,"p":54.24,"v":71},{"m":296,"p":54.24,"v":71},{"m":297,"p":54.24,"v":68},{"m":298,"p":54.24,"v":74},{"m":299,"p":54.24,"v":75},{"m":300,"p":54.24,"v":71},{"m":301,"p":54.24,"v":76},{"m":302,"p":54.24,"v":76},{"m":303,"p":54.24,"v":75},{"m":304,"p":54.24,"v":75},{"m":307,"p":54.24,"v":70},{"m":308,"p":54.24,"v":70},{"m":309,"p":54.24,"v":70},{"m":311,"p":54.24,"v":71},
{"m":283,"p":54.23,"v":56},{"m":284,"p":54.23,"v":56},{"m":285,"p":54.23,"v":55},{"m":286,"p":54.23,"v":50},{"m":287,"p":54.23,"v":48},{"m":288,"p":54.23,"v":48},{"m":289,"p":54.23,"v":47},{"m":291,"p":54.23,"v":44},{"m":292,"p":54.23,"v":49},{"m":293,"p":54.23,"v":47},{"m":294,"p":54.23,"v":48},{"m":295,"p":54.23,"v":49},{"m":296,"p":54.23,"v":49},{"m":297,"p":54.23,"v":50},{"m":298,"p":54.23,"v":50},{"m":299,"p":54.23,"v":50},{"m":300,"p":54.23,"v":51},{"m":301,"p":54.23,"v":51},{"m":302,"p":54.23,"v":51},{"m":303,"p":54.23,"v":51},{"m":308,"p":54.23,"v":53},{"m":311,"p":54.23,"v":53},
{"m":283,"p":54.22,"v":58},{"m":284,"p":54.22,"v":56},{"m":285,"p":54.22,"v":56},{"m":291,"p":54.22,"v":44},{"m":292,"p":54.22,"v":44},{"m":293,"p":54.22,"v":45},{"m":294,"p":54.22,"v":46},{"m":295,"p":54.22,"v":47},{"m":296,"p":54.22,"v":48},{"m":297,"p":54.22,"v":47},{"m":298,"p":54.22,"v":47},{"m":299,"p":54.22,"v":47},{"m":300,"p":54.22,"v":50},{"m":301,"p":54.22,"v":49},{"m":302,"p":54.22,"v":49},{"m":311,"p":54.22,"v":49},
{"m":283,"p":54.21,"v":77},{"m":284,"p":54.21,"v":76},{"m":285,"p":54.21,"v":77},{"m":293,"p":54.21,"v":77},{"m":294,"p":54.21,"v":73},{"m":297,"p":54.21,"v":77},{"m":298,"p":54.21,"v":74},{"m":299,"p":54.21,"v":74},{"m":300,"p":54.21,"v":75},{"m":301,"p":54.21,"v":80},
{"m":283,"p":54.2,"v":69},{"m":284,"p":54.2,"v":69},{"m":285,"p":54.2,"v":68},{"m":297,"p":54.2,"v":75},{"m":298,"p":54.2,"v":75},
{"m":283,"p":54.19,"v":56},{"m":284,"p":54.19,"v":56},{"m":283,"p":54.18,"v":55}],
"spans":[{"p":54.65,"a":325.5,"b":331.5,"v":148},{"p":54.64,"a":325.5,"b":331.5,"v":60},{"p":54.63,"a":327.5,"b":331.5,"v":78},{"p":54.62,"a":328.5,"b":329.5,"v":90},{"p":54.56,"a":316.5,"b":319.5,"v":36},{"p":54.55,"a":316.5,"b":319.5,"v":171},{"p":54.54,"a":316.5,"b":317.5,"v":60},{"p":54.47,"a":305.5,"b":312.5,"v":92},{"p":54.47,"a":314.5,"b":315.5,"v":80},{"p":54.46,"a":305.5,"b":311.5,"v":81},{"p":54.45,"a":287.5,"b":303.5,"v":119},{"p":54.45,"a":307.5,"b":309.5,"v":150},{"p":54.44,"a":291.5,"b":303.5,"v":45},{"p":54.43,"a":291.5,"b":294.5,"v":76},{"p":54.43,"a":295.5,"b":302.5,"v":67},{"p":54.43,"a":323.5,"b":324.5,"v":56},{"p":54.42,"a":296.5,"b":297.5,"v":67},{"p":54.42,"a":299.5,"b":300.5,"v":68},{"p":54.42,"a":323.5,"b":324.5,"v":48},{"p":54.41,"a":322.5,"b":324.5,"v":60},{"p":54.41,"a":326.5,"b":327.5,"v":53},{"p":54.4,"a":322.5,"b":325.5,"v":75},{"p":54.4,"a":326.5,"b":327.5,"v":68},{"p":54.4,"a":330.5,"b":331.5,"v":74},{"p":54.39,"a":321.5,"b":327.5,"v":59},{"p":54.39,"a":330.5,"b":331.5,"v":57},{"p":54.38,"a":321.5,"b":328.5,"v":56},{"p":54.38,"a":330.5,"b":331.5,"v":70},{"p":54.37,"a":320.5,"b":329.5,"v":73},{"p":54.37,"a":330.5,"b":331.5,"v":108},{"p":54.36,"a":320.5,"b":331.5,"v":59},{"p":54.35,"a":320.5,"b":331.5,"v":77},{"p":54.34,"a":320.5,"b":331.5,"v":54},{"p":54.33,"a":318.5,"b":331.5,"v":50},{"p":54.32,"a":317.5,"b":331.5,"v":63},{"p":54.31,"a":316.5,"b":331.5,"v":60},{"p":54.3,"a":316.5,"b":331.5,"v":59},{"p":54.29,"a":316.5,"b":331.5,"v":49},{"p":54.28,"a":316.5,"b":331.5,"v":57},{"p":54.27,"a":316.5,"b":331.5,"v":57},{"p":54.26,"a":314.5,"b":331.5,"v":66},{"p":54.25,"a":314.5,"b":331.5,"v":75},{"p":54.24,"a":304.5,"b":306.5,"v":75},{"p":54.24,"a":309.5,"b":310.5,"v":70},{"p":54.24,"a":311.5,"b":331.5,"v":70},{"p":54.23,"a":289.5,"b":290.5,"v":47},{"p":54.23,"a":303.5,"b":307.5,"v":51},{"p":54.23,"a":308.5,"b":310.5,"v":53},{"p":54.23,"a":311.5,"b":331.5,"v":53},{"p":54.22,"a":285.5,"b":290.5,"v":50},{"p":54.22,"a":302.5,"b":310.5,"v":49},{"p":54.22,"a":311.5,"b":331.5,"v":49},{"p":54.21,"a":285.5,"b":292.5,"v":77},{"p":54.21,"a":294.5,"b":296.5,"v":73},{"p":54.21,"a":301.5,"b":331.5,"v":80},{"p":54.2,"a":285.5,"b":296.5,"v":68},{"p":54.2,"a":298.5,"b":331.5,"v":75},{"p":54.19,"a":284.5,"b":331.5,"v":56},{"p":54.18,"a":283.5,"b":331.5,"v":55}],
"tail":[{"p":54.65,"v":148},{"p":54.64,"v":60},{"p":54.63,"v":78},{"p":54.62,"v":86},{"p":54.61,"v":67},{"p":54.6,"v":154},{"p":54.59,"v":58},{"p":54.58,"v":83},{"p":54.57,"v":65},{"p":54.56,"v":125},{"p":54.55,"v":81},{"p":54.54,"v":41},{"p":54.53,"v":49},{"p":54.51,"v":51},{"p":54.5,"v":72},{"p":54.49,"v":57},{"p":54.48,"v":102},{"p":54.47,"v":72},{"p":54.46,"v":59},{"p":54.45,"v":73},{"p":54.44,"v":88},{"p":54.43,"v":86},{"p":54.42,"v":53},{"p":54.41,"v":61},{"p":54.4,"v":74},{"p":54.39,"v":57},{"p":54.38,"v":70},{"p":54.37,"v":108},{"p":54.36,"v":59},{"p":54.35,"v":76},{"p":54.34,"v":54},{"p":54.33,"v":49},{"p":54.32,"v":63},{"p":54.31,"v":60},{"p":54.3,"v":59},{"p":54.29,"v":49},{"p":54.28,"v":57},{"p":54.27,"v":57},{"p":54.26,"v":66},{"p":54.25,"v":75},{"p":54.24,"v":70},{"p":54.23,"v":53},{"p":54.22,"v":49},{"p":54.21,"v":80},{"p":54.2,"v":75},{"p":54.19,"v":56},{"p":54.18,"v":55}],
"steps":[{"m":282.54,"g":54.29,"r":54.28},{"m":283,"g":54.29,"r":54.28},{"m":284,"g":54.3,"r":54.29},{"m":285,"g":54.34,"r":54.33},{"m":286,"g":54.35,"r":54.34},{"m":287,"g":54.34,"r":54.33},{"m":288,"g":54.34,"r":54.33},{"m":289,"g":54.35,"r":54.34},{"m":290,"g":54.35,"r":54.34},{"m":291,"g":54.33,"r":54.32},{"m":292,"g":54.33,"r":54.32},{"m":293,"g":54.33,"r":54.32},{"m":294,"g":54.32,"r":54.31},{"m":295,"g":54.32,"r":54.31},{"m":296,"g":54.32,"r":54.31},{"m":297,"g":54.3,"r":54.29},{"m":298,"g":54.33,"r":54.32},{"m":299,"g":54.31,"r":54.3},{"m":300,"g":54.32,"r":54.31},{"m":301,"g":54.32,"r":54.31},{"m":302,"g":54.33,"r":54.32},{"m":303,"g":54.33,"r":54.32},{"m":304,"g":54.35,"r":54.34},{"m":305,"g":54.35,"r":54.34},{"m":306,"g":54.35,"r":54.34},{"m":307,"g":54.35,"r":54.34},{"m":308,"g":54.35,"r":54.34},{"m":309,"g":54.35,"r":54.34},{"m":310,"g":54.35,"r":54.34},{"m":311,"g":54.35,"r":54.34},{"m":312,"g":54.37,"r":54.36},{"m":313,"g":54.37,"r":54.36},{"m":314,"g":54.37,"r":54.36},{"m":315,"g":54.37,"r":54.36},{"m":316,"g":54.44,"r":54.43},{"m":317,"g":54.43,"r":54.42},{"m":318,"g":54.44,"r":54.43},{"m":319,"g":54.45,"r":54.44},{"m":320,"g":54.48,"r":54.47},{"m":321,"g":54.5,"r":54.49},{"m":322,"g":54.52,"r":54.51},{"m":323,"g":54.54,"r":54.53},{"m":324,"g":54.56,"r":54.55},{"m":325,"g":54.52,"r":54.51},{"m":326,"g":54.54,"r":54.53},{"m":327,"g":54.53,"r":54.52},{"m":328,"g":54.49,"r":54.48},{"m":329,"g":54.52,"r":54.51},{"m":330,"g":54.52,"r":54.51},{"m":331,"g":54.52,"r":54.51},{"m":331.5,"g":54.52,"r":54.51}],
"arrows":[{"m":283,"p":54.29},{"m":284,"p":54.3},{"m":285,"p":54.34},{"m":286,"p":54.35},{"m":287,"p":54.35},{"m":288,"p":54.34},{"m":289,"p":54.34},{"m":290,"p":54.34},{"m":291,"p":54.33},{"m":292,"p":54.32},{"m":293,"p":54.31},{"m":294,"p":54.32},{"m":295,"p":54.33},{"m":296,"p":54.32},{"m":297,"p":54.3},{"m":298,"p":54.31},{"m":299,"p":54.32},{"m":300,"p":54.31},{"m":301,"p":54.31},{"m":302,"p":54.32},{"m":303,"p":54.33},{"m":304,"p":54.34},{"m":305,"p":54.36},{"m":306,"p":54.35},{"m":307,"p":54.35},{"m":308,"p":54.34},{"m":309,"p":54.34},{"m":310,"p":54.35},{"m":311,"p":54.34},{"m":312,"p":54.36},{"m":313,"p":54.36},{"m":314,"p":54.36},{"m":315,"p":54.36},{"m":316,"p":54.44},{"m":317,"p":54.43},{"m":318,"p":54.43},{"m":319,"p":54.44},{"m":320,"p":54.48},{"m":321,"p":54.49},{"m":322,"p":54.51},{"m":323,"p":54.53},{"m":324,"p":54.58},{"m":325,"p":54.53},{"m":326,"p":54.52},{"m":327,"p":54.53},{"m":328,"p":54.5},{"m":329,"p":54.5},{"m":330,"p":54.5},{"m":331,"p":54.51}],
"wicks":[{"m":285,"lo":54.3,"hi":54.34,"tk":54.33,"e":285.42,"k":"up"},{"m":316,"lo":54.37,"hi":54.461,"tk":54.44,"e":316.42,"k":"up"},{"m":320,"lo":54.44,"hi":54.49,"tk":54.48,"e":320.42,"k":"up"},{"m":329,"lo":54.48,"hi":54.52,"tk":54.52,"e":329.42,"k":"up"},{"m":325,"lo":54.51,"hi":54.56,"tk":54.51,"e":325.42,"k":"down"},{"m":328,"lo":54.48,"hi":54.52,"tk":54.48,"e":328.42,"k":"down"}],
"levels":[{"p":54.451,"a":289,"b":299,"e":300.09,"t":"54.45"},{"p":54.201,"a":299,"b":307,"e":308.09,"t":"54.20"},{"p":54.331,"a":321,"b":327,"e":328.09,"t":"54.33"},{"p":54.301,"a":317,"b":323,"e":324.09,"t":"54.30"}],
"sides":[{"p":54.51,"n":"52%","k":"total"},{"p":54.4957,"n":"570","k":"total"},{"p":54.48,"n":"44","k":"bid"},{"p":54.47,"n":"35","k":"bid"},{"p":54.46,"n":"51","k":"bid"},{"p":54.45,"n":"102","k":"bid"},{"p":54.44,"n":"44","k":"bid"},{"p":54.43,"n":"69","k":"bid"},{"p":54.42,"n":"64","k":"bid"},{"p":54.41,"n":"60","k":"bid"},{"p":54.4,"n":"57","k":"bid"},{"p":54.39,"n":"44","k":"bid"},{"p":54.38,"n":"28","k":"ask"},{"p":54.37,"n":"52","k":"ask"},{"p":54.36,"n":"84","k":"ask"},{"p":54.35,"n":"64","k":"ask"},{"p":54.34,"n":"66","k":"ask"},{"p":54.33,"n":"46","k":"ask"},{"p":54.32,"n":"49","k":"ask"},{"p":54.31,"n":"48","k":"ask"},{"p":54.3,"n":"64","k":"ask"},{"p":54.29,"n":"35","k":"ask"},{"p":54.276,"n":"536","k":"total"},{"p":54.261,"n":"48%","k":"total"}],
"gray":[{"a":281.36,"b":282.27,"p":54.611,"t":"54.61"},{"a":335.03,"b":335.94,"p":54.611,"t":"54.61"}]},
"layer":[
{"data":{"name":"cells"},"mark":{"type":"rect","width":34.2,"height":16,"yOffset":-1.5},"encoding":{"x":{"field":"m","type":"quantitative","scale":{"domain":[282.39,334.92],"nice":false,"zero":false},"axis":{"values":[283,284,285,286,287,288,289,290,291,292,293,294,295,296,297,298,299,300,301,302,303,304,305,306,307,308,309,310,311,312,313,314,315,316,317,318,319,320,321,322,323,324,325,326,327,328,329,330,331,332,333,334],"labelExpr":"floor(datum.value/60)+':'+(datum.value%60<10?'0':'')+(datum.value%60)","labelOverlap":false,"labelFlush":false,"labelPadding":6}},"y":{"field":"p","type":"quantitative","scale":{"domain":[54.0941,54.6657],"nice":false,"zero":false},"axis":{"orient":"left","values":[54.12,54.16,54.2,54.24,54.28,54.32,54.36,54.4,54.44,54.48,54.52,54.56,54.6,54.64],"format":".2f","labelFlush":false,"labelOverlap":false}},"color":{"field":"v","type":"quantitative","scale":{"domain":[30,100,460],"range":["#0e0e0e","#353535","#ffffff"],"clamp":true},"legend":null}}},
{"data":{"name":"spans"},"mark":{"type":"rect","height":16,"yOffset":-1.5},"encoding":{"x":{"field":"a","type":"quantitative","axis":null},"x2":{"field":"b"},"y":{"field":"p","type":"quantitative","axis":null},"color":{"field":"v","type":"quantitative","legend":null}}},
{"data":{"name":"tail"},"mark":{"type":"rect","height":16,"yOffset":-1.5},"encoding":{"x":{"datum":331.5,"type":"quantitative","axis":null},"x2":{"datum":333.69},"y":{"field":"p","type":"quantitative","axis":{"orient":"right","values":[54.12,54.16,54.2,54.24,54.28,54.32,54.36,54.4,54.44,54.48,54.52,54.56,54.6,54.64],"format":".2f","labelFlush":false,"labelOverlap":false}},"color":{"field":"v","type":"quantitative","legend":null}}},
{"data":{"name":"cells"},"mark":{"type":"text","align":"right","baseline":"middle","dx":7.5,"dy":0.5,"fontSize":12,"color":"#0c0c0c"},"encoding":{"x":{"field":"m","type":"quantitative","axis":null},"y":{"field":"p","type":"quantitative","axis":null},"text":{"field":"v","type":"quantitative","format":"d"}}},
{"data":{"name":"tail"},"mark":{"type":"text","align":"right","baseline":"middle","dx":7.5,"dy":0.5,"fontSize":12,"color":"#0c0c0c"},"encoding":{"x":{"datum":333.2,"type":"quantitative","axis":null},"y":{"field":"p","type":"quantitative","axis":null},"text":{"field":"v","type":"quantitative","format":"d"}}},
{"data":{"name":"steps"},"mark":{"type":"line","interpolate":"step","color":"#8b0000","strokeWidth":2},"encoding":{"x":{"field":"m","type":"quantitative","axis":null},"y":{"field":"r","type":"quantitative","axis":null}}},
{"data":{"name":"steps"},"mark":{"type":"line","interpolate":"step","color":"#008000","strokeWidth":2},"encoding":{"x":{"field":"m","type":"quantitative","axis":null},"y":{"field":"g","type":"quantitative","axis":null}}},
{"data":{"name":"arrows"},"mark":{"type":"point","shape":"M-0.5,-1L0.5,0L-0.5,1Z","filled":true,"size":100,"color":"#ff8800","opacity":1,"xOffset":14},"encoding":{"x":{"field":"m","type":"quantitative","axis":null},"y":{"field":"p","type":"quantitative","axis":null}}},
{"data":{"name":"wicks"},"mark":{"type":"rule","strokeWidth":1.2},"encoding":{"x":{"field":"m","type":"quantitative","axis":null},"y":{"field":"lo","type":"quantitative","axis":null},"y2":{"field":"hi"},"stroke":{"field":"k","type":"nominal","scale":{"domain":["up","down"],"range":["#00e0e0","#e000e0"]},"legend":null}}},
{"data":{"name":"wicks"},"mark":{"type":"rule","strokeWidth":1.2},"encoding":{"x":{"field":"m","type":"quantitative","axis":null},"x2":{"field":"e"},"y":{"field":"tk","type":"quantitative","axis":null},"stroke":{"field":"k","type":"nominal","legend":null}}},
{"data":{"name":"levels"},"mark":{"type":"rule","color":"#e60000","strokeWidth":1},"encoding":{"x":{"field":"a","type":"quantitative","axis":null},"x2":{"field":"b"},"y":{"field":"p","type":"quantitative","axis":null}}},
{"data":{"name":"levels"},"mark":{"type":"rect","height":19,"color":"#000000"},"encoding":{"x":{"field":"b","type":"quantitative","axis":null},"x2":{"field":"e"},"y":{"field":"p","type":"quantitative","axis":null}}},
{"data":{"name":"levels"},"mark":{"type":"text","align":"left","baseline":"middle","dx":1,"dy":0.5,"fontSize":14,"color":"#f00000"},"encoding":{"x":{"field":"b","type":"quantitative","axis":null},"y":{"field":"p","type":"quantitative","axis":null},"text":{"field":"t"}}},
{"mark":{"type":"rule","color":"#a8a8a8","strokeWidth":1},"encoding":{"x":{"datum":308,"type":"quantitative","axis":null}}},
{"mark":{"type":"rule","color":"#a8a8a8","strokeWidth":1},"encoding":{"y":{"datum":54.611,"type":"quantitative","axis":null}}},
{"mark":{"type":"rect","color":"#000000"},"encoding":{"x":{"datum":280.5,"type":"quantitative","axis":null},"x2":{"datum":282.5},"y":{"datum":54.1098,"type":"quantitative","axis":null},"y2":{"datum":54.0955}}},
{"mark":{"type":"text","align":"left","baseline":"middle","fontSize":15,"color":"#6a8296","text":"www.sierrachart.com"},"encoding":{"x":{"datum":281.24,"type":"quantitative","axis":null},"y":{"datum":54.1021,"type":"quantitative","axis":null}}},
{"mark":{"type":"text","align":"left","baseline":"middle","fontSize":12.7,"color":"#8c8c8c","text":"CLJ7 [C]\u00a0 1 Min\u00a0\u00a0 #4 2017-02-21 O: 54.52 H: 54.52 L: 54.50 C: 54.51 V: 270 BV: 161 AV: 109 DV: 643611 NoLink 0\u00a0 Market Depth Historical Graph\u00a0\u00a0 (#FFFFFF, #FFFFFF, 5, 30, Yes, Yes, #000000, No, 65, No)"},"encoding":{"x":{"datum":282.59,"type":"quantitative","axis":null},"y":{"datum":54.6594,"type":"quantitative","axis":null}}},
{"data":{"name":"gray"},"mark":{"type":"rect","height":17,"color":"#a0a0a0"},"encoding":{"x":{"field":"a","type":"quantitative","axis":null},"x2":{"field":"b"},"y":{"field":"p","type":"quantitative","axis":null}}},
{"data":{"name":"gray"},"mark":{"type":"text","align":"left","baseline":"middle","dx":1,"dy":0.5,"fontSize":12,"color":"#141414"},"encoding":{"x":{"field":"a","type":"quantitative","axis":null},"y":{"field":"p","type":"quantitative","axis":null},"text":{"field":"t"}}},
{"mark":{"type":"rect","height":17,"color":"#ffffff"},"encoding":{"x":{"datum":335.03,"type":"quantitative","axis":null},"x2":{"datum":335.94},"y":{"datum":54.51,"type":"quantitative","axis":null}}},
{"mark":{"type":"text","align":"left","baseline":"middle","dx":1,"dy":0.5,"fontSize":12,"color":"#000000","text":"54.51"},"encoding":{"x":{"datum":335.03,"type":"quantitative","axis":null},"y":{"datum":54.51,"type":"quantitative","axis":null}}},
{"data":{"name":"sides"},"mark":{"type":"text","align":"center","baseline":"middle","fontSize":15},"encoding":{"x":{"datum":336.8,"type":"quantitative","axis":null},"y":{"field":"p","type":"quantitative","axis":null},"text":{"field":"n"},"fill":{"field":"k","type":"nominal","scale":{"domain":["bid","ask","total"],"range":["#00a800","#e00000","#7c7c7c"]},"legend":null}}},
{"mark":{"type":"rect","color":"#8a8a8a"},"encoding":{"x":{"datum":306.02,"type":"quantitative","axis":null},"x2":{"datum":309.93},"y":{"datum":54.0909,"type":"quantitative","axis":null},"y2":{"datum":54.0815}}},
{"mark":{"type":"text","align":"center","baseline":"middle","fontSize":12,"color":"#141414","text":"Tue -02-21\u00a0 05:08:00"},"encoding":{"x":{"datum":307.92,"type":"quantitative","axis":null},"y":{"datum":54.0859,"type":"quantitative","axis":null}}},
{"mark":{"type":"rect","color":"#f01010"},"encoding":{"x":{"datum":336.6,"type":"quantitative","axis":null},"x2":{"datum":337.6},"y":{"datum":54.0916,"type":"quantitative","axis":null},"y2":{"datum":54.0802}}},
{"mark":{"type":"text","align":"center","baseline":"middle","fontSize":13,"color":"#3a0000","text":"33 L"},"encoding":{"x":{"datum":337.04,"type":"quantitative","axis":null},"y":{"datum":54.0859,"type":"quantitative","axis":null}}}
]}
